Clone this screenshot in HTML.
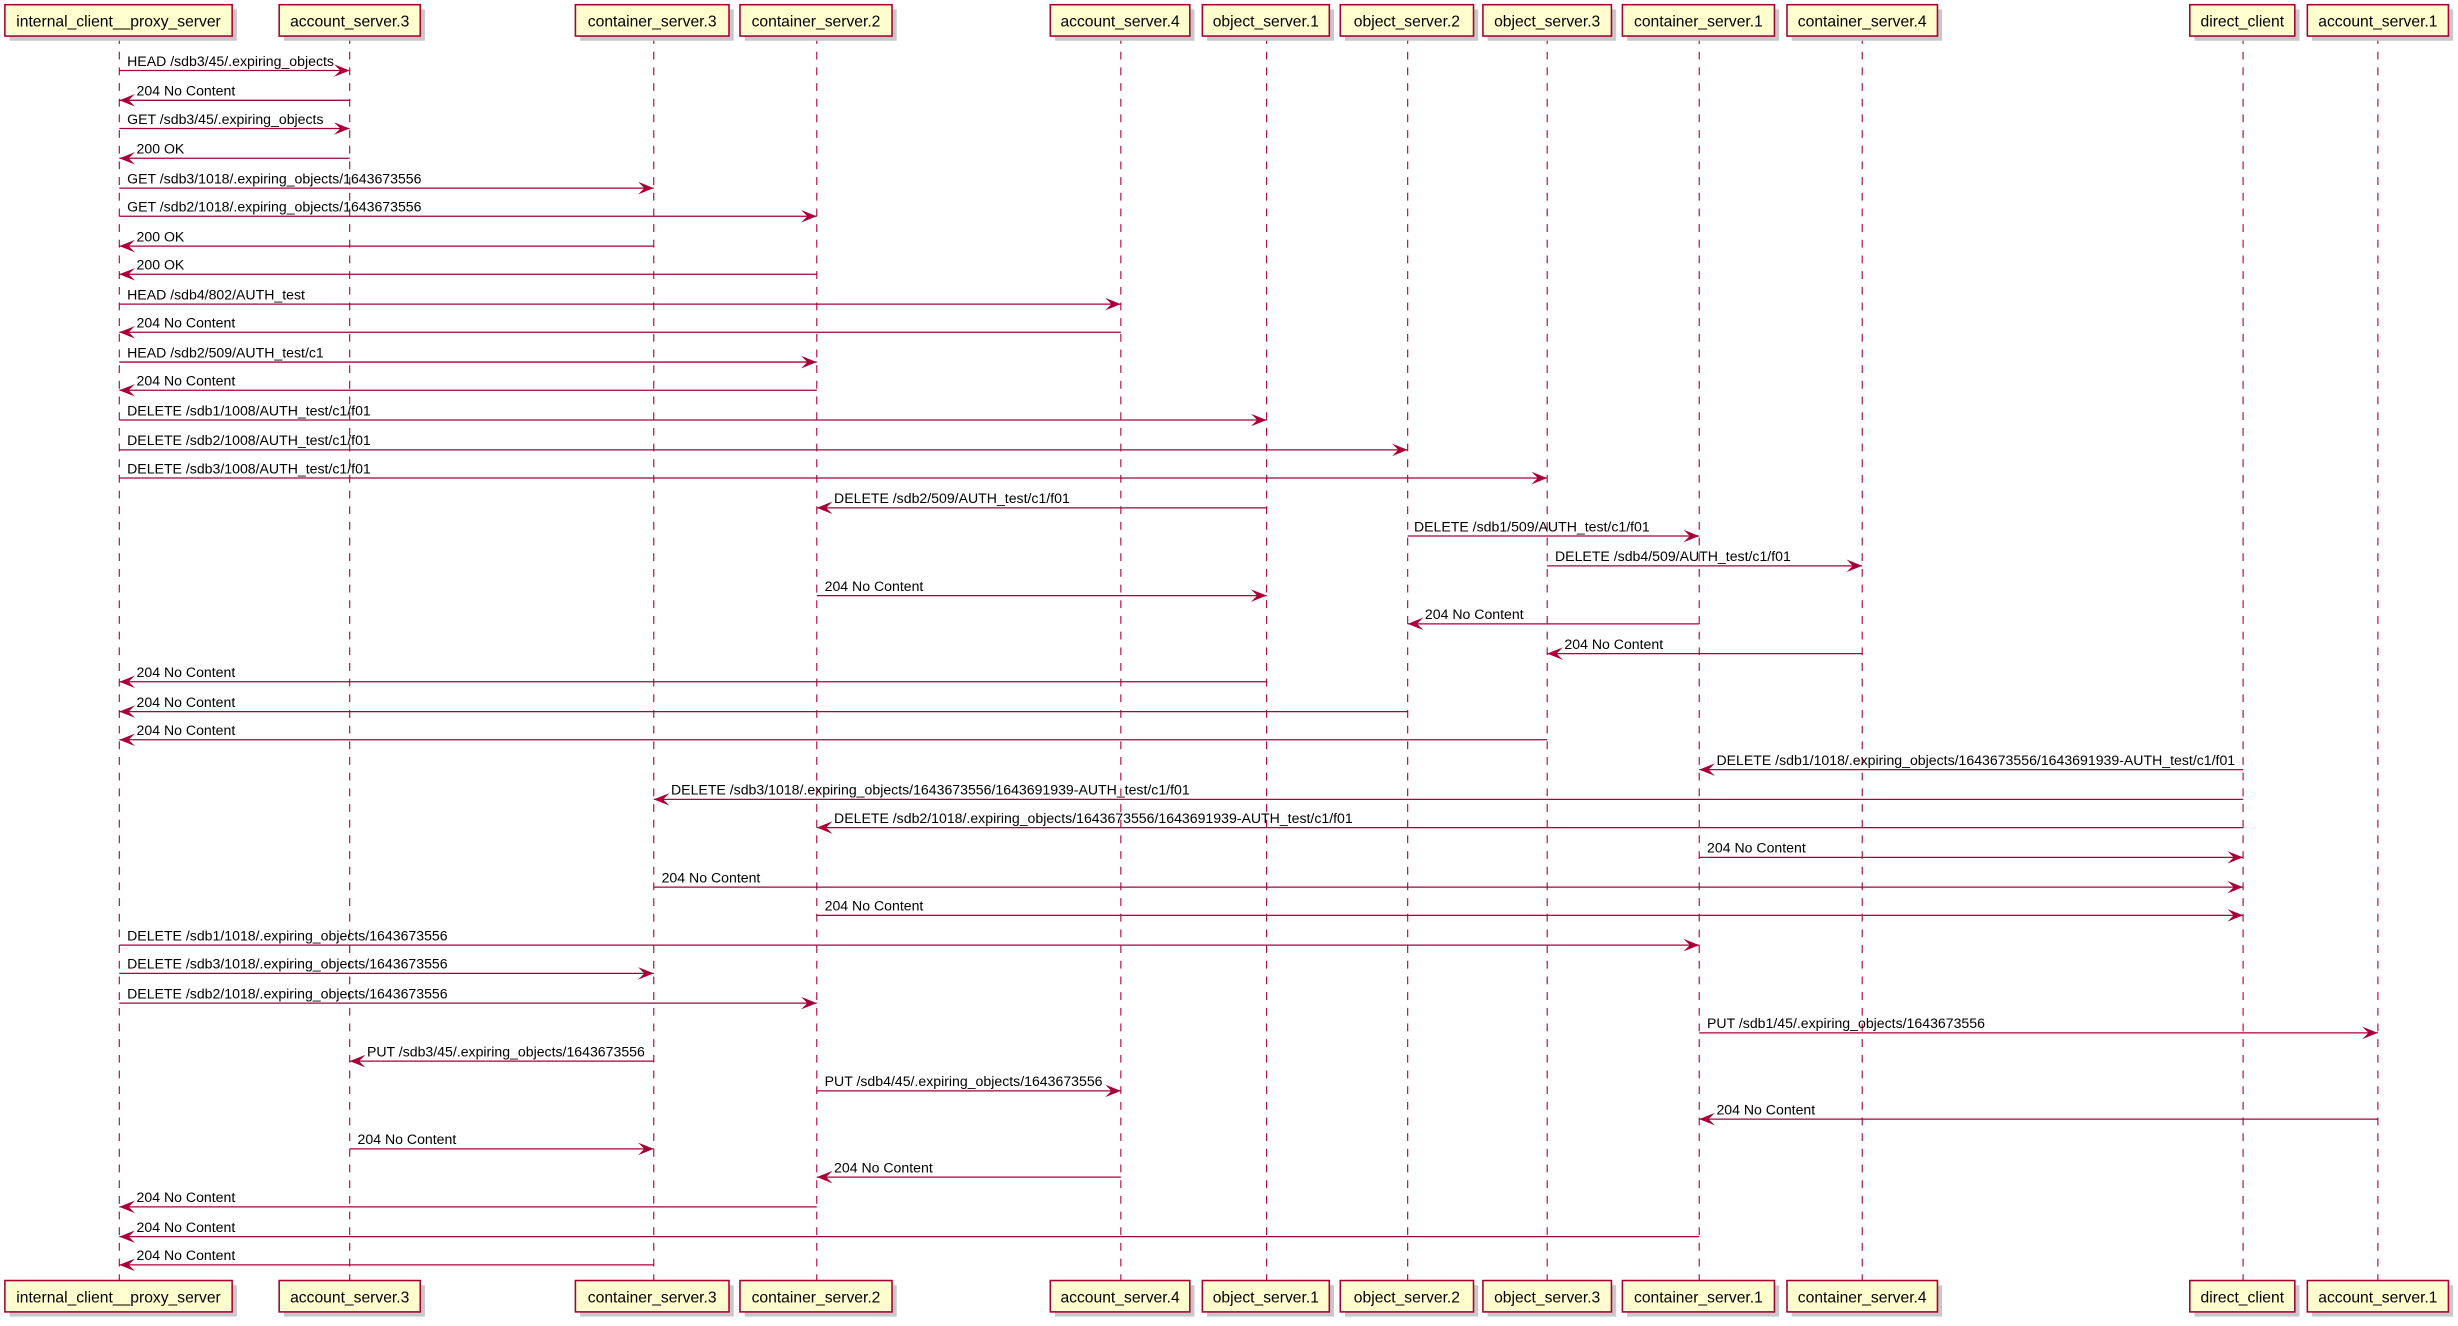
<!DOCTYPE html>
<html><head><meta charset="utf-8"><style>
html,body{margin:0;padding:0;background:#fff;}
svg{display:block;}
text{font-family:"Liberation Sans","DejaVu Sans",sans-serif;fill:#000;}
.m{font-size:9px;}
.b{font-size:10px;}
.ll{stroke:#A80036;stroke-width:0.7;stroke-dasharray:5,5;}
.a{stroke:#A80036;stroke-width:0.8;marker-end:url(#h);}
.box{fill:#FEFECE;stroke:#A80036;stroke-width:1;}
.sh{fill:#c8c8c8;}
</style></head><body>
<svg width="2458" height="1326" viewBox="0 0 1568 846" xmlns="http://www.w3.org/2000/svg">
<defs><marker id="h" markerUnits="userSpaceOnUse" markerWidth="10" markerHeight="8" refX="10" refY="4" orient="auto"><path d="M0,0 L10,4 L0,8 L4,4 Z" fill="#A80036"/></marker></defs>
<g>
<line class="ll" x1="76" y1="23" x2="76" y2="817"/>
<line class="ll" x1="223" y1="23" x2="223" y2="817"/>
<line class="ll" x1="417" y1="23" x2="417" y2="817"/>
<line class="ll" x1="521" y1="23" x2="521" y2="817"/>
<line class="ll" x1="715" y1="23" x2="715" y2="817"/>
<line class="ll" x1="808" y1="23" x2="808" y2="817"/>
<line class="ll" x1="898" y1="23" x2="898" y2="817"/>
<line class="ll" x1="987" y1="23" x2="987" y2="817"/>
<line class="ll" x1="1084" y1="23" x2="1084" y2="817"/>
<line class="ll" x1="1188" y1="23" x2="1188" y2="817"/>
<line class="ll" x1="1431" y1="23" x2="1431" y2="817"/>
<line class="ll" x1="1517" y1="23" x2="1517" y2="817"/>
</g>
<g id="top">
<rect class="sh" x="6" y="6" width="145" height="20"/><rect class="box" x="3" y="3" width="145" height="20"/><text class="b" x="75.5" y="17" text-anchor="middle">internal_client__proxy_server</text>
<rect class="sh" x="181" y="6" width="90" height="20"/><rect class="box" x="178" y="3" width="90" height="20"/><text class="b" x="223" y="17" text-anchor="middle">account_server.3</text>
<rect class="sh" x="370" y="6" width="98" height="20"/><rect class="box" x="367" y="3" width="98" height="20"/><text class="b" x="416" y="17" text-anchor="middle">container_server.3</text>
<rect class="sh" x="475" y="6" width="97" height="20"/><rect class="box" x="472" y="3" width="97" height="20"/><text class="b" x="520.5" y="17" text-anchor="middle">container_server.2</text>
<rect class="sh" x="673" y="6" width="89" height="20"/><rect class="box" x="670" y="3" width="89" height="20"/><text class="b" x="714.5" y="17" text-anchor="middle">account_server.4</text>
<rect class="sh" x="770" y="6" width="81" height="20"/><rect class="box" x="767" y="3" width="81" height="20"/><text class="b" x="807.5" y="17" text-anchor="middle">object_server.1</text>
<rect class="sh" x="858" y="6" width="85" height="20"/><rect class="box" x="855" y="3" width="85" height="20"/><text class="b" x="897.5" y="17" text-anchor="middle">object_server.2</text>
<rect class="sh" x="949" y="6" width="82" height="20"/><rect class="box" x="946" y="3" width="82" height="20"/><text class="b" x="987" y="17" text-anchor="middle">object_server.3</text>
<rect class="sh" x="1038" y="6" width="97" height="20"/><rect class="box" x="1035" y="3" width="97" height="20"/><text class="b" x="1083.5" y="17" text-anchor="middle">container_server.1</text>
<rect class="sh" x="1143" y="6" width="96" height="20"/><rect class="box" x="1140" y="3" width="96" height="20"/><text class="b" x="1188" y="17" text-anchor="middle">container_server.4</text>
<rect class="sh" x="1400" y="6" width="67" height="20"/><rect class="box" x="1397" y="3" width="67" height="20"/><text class="b" x="1430.5" y="17" text-anchor="middle">direct_client</text>
<rect class="sh" x="1475" y="6" width="90" height="20"/><rect class="box" x="1472" y="3" width="90" height="20"/><text class="b" x="1517" y="17" text-anchor="middle">account_server.1</text>
</g>
<g>
<rect class="sh" x="6" y="820" width="145" height="20"/><rect class="box" x="3" y="817" width="145" height="20"/><text class="b" x="75.5" y="831" text-anchor="middle">internal_client__proxy_server</text>
<rect class="sh" x="181" y="820" width="90" height="20"/><rect class="box" x="178" y="817" width="90" height="20"/><text class="b" x="223" y="831" text-anchor="middle">account_server.3</text>
<rect class="sh" x="370" y="820" width="98" height="20"/><rect class="box" x="367" y="817" width="98" height="20"/><text class="b" x="416" y="831" text-anchor="middle">container_server.3</text>
<rect class="sh" x="475" y="820" width="97" height="20"/><rect class="box" x="472" y="817" width="97" height="20"/><text class="b" x="520.5" y="831" text-anchor="middle">container_server.2</text>
<rect class="sh" x="673" y="820" width="89" height="20"/><rect class="box" x="670" y="817" width="89" height="20"/><text class="b" x="714.5" y="831" text-anchor="middle">account_server.4</text>
<rect class="sh" x="770" y="820" width="81" height="20"/><rect class="box" x="767" y="817" width="81" height="20"/><text class="b" x="807.5" y="831" text-anchor="middle">object_server.1</text>
<rect class="sh" x="858" y="820" width="85" height="20"/><rect class="box" x="855" y="817" width="85" height="20"/><text class="b" x="897.5" y="831" text-anchor="middle">object_server.2</text>
<rect class="sh" x="949" y="820" width="82" height="20"/><rect class="box" x="946" y="817" width="82" height="20"/><text class="b" x="987" y="831" text-anchor="middle">object_server.3</text>
<rect class="sh" x="1038" y="820" width="97" height="20"/><rect class="box" x="1035" y="817" width="97" height="20"/><text class="b" x="1083.5" y="831" text-anchor="middle">container_server.1</text>
<rect class="sh" x="1143" y="820" width="96" height="20"/><rect class="box" x="1140" y="817" width="96" height="20"/><text class="b" x="1188" y="831" text-anchor="middle">container_server.4</text>
<rect class="sh" x="1400" y="820" width="67" height="20"/><rect class="box" x="1397" y="817" width="67" height="20"/><text class="b" x="1430.5" y="831" text-anchor="middle">direct_client</text>
<rect class="sh" x="1475" y="820" width="90" height="20"/><rect class="box" x="1472" y="817" width="90" height="20"/><text class="b" x="1517" y="831" text-anchor="middle">account_server.1</text>
</g>
<g>
<line class="a" x1="76" y1="45" x2="223" y2="45"/><text class="m" x="81" y="42">HEAD /sdb3/45/.expiring_objects</text>
<line class="a" x1="223" y1="64" x2="76" y2="64"/><text class="m" x="87" y="61">204 No Content</text>
<line class="a" x1="76" y1="82" x2="223" y2="82"/><text class="m" x="81" y="79">GET /sdb3/45/.expiring_objects</text>
<line class="a" x1="223" y1="101" x2="76" y2="101"/><text class="m" x="87" y="98">200 OK</text>
<line class="a" x1="76" y1="120" x2="417" y2="120"/><text class="m" x="81" y="117">GET /sdb3/1018/.expiring_objects/1643673556</text>
<line class="a" x1="76" y1="138" x2="521" y2="138"/><text class="m" x="81" y="135">GET /sdb2/1018/.expiring_objects/1643673556</text>
<line class="a" x1="417" y1="157" x2="76" y2="157"/><text class="m" x="87" y="154">200 OK</text>
<line class="a" x1="521" y1="175" x2="76" y2="175"/><text class="m" x="87" y="172">200 OK</text>
<line class="a" x1="76" y1="194" x2="715" y2="194"/><text class="m" x="81" y="191">HEAD /sdb4/802/AUTH_test</text>
<line class="a" x1="715" y1="212" x2="76" y2="212"/><text class="m" x="87" y="209">204 No Content</text>
<line class="a" x1="76" y1="231" x2="521" y2="231"/><text class="m" x="81" y="228">HEAD /sdb2/509/AUTH_test/c1</text>
<line class="a" x1="521" y1="249" x2="76" y2="249"/><text class="m" x="87" y="246">204 No Content</text>
<line class="a" x1="76" y1="268" x2="808" y2="268"/><text class="m" x="81" y="265">DELETE /sdb1/1008/AUTH_test/c1/f01</text>
<line class="a" x1="76" y1="287" x2="898" y2="287"/><text class="m" x="81" y="284">DELETE /sdb2/1008/AUTH_test/c1/f01</text>
<line class="a" x1="76" y1="305" x2="987" y2="305"/><text class="m" x="81" y="302">DELETE /sdb3/1008/AUTH_test/c1/f01</text>
<line class="a" x1="808" y1="324" x2="521" y2="324"/><text class="m" x="532" y="321">DELETE /sdb2/509/AUTH_test/c1/f01</text>
<line class="a" x1="898" y1="342" x2="1084" y2="342"/><text class="m" x="902" y="339">DELETE /sdb1/509/AUTH_test/c1/f01</text>
<line class="a" x1="987" y1="361" x2="1188" y2="361"/><text class="m" x="992" y="358">DELETE /sdb4/509/AUTH_test/c1/f01</text>
<line class="a" x1="521" y1="380" x2="808" y2="380"/><text class="m" x="526" y="377">204 No Content</text>
<line class="a" x1="1084" y1="398" x2="898" y2="398"/><text class="m" x="909" y="395">204 No Content</text>
<line class="a" x1="1188" y1="417" x2="987" y2="417"/><text class="m" x="998" y="414">204 No Content</text>
<line class="a" x1="808" y1="435" x2="76" y2="435"/><text class="m" x="87" y="432">204 No Content</text>
<line class="a" x1="898" y1="454" x2="76" y2="454"/><text class="m" x="87" y="451">204 No Content</text>
<line class="a" x1="987" y1="472" x2="76" y2="472"/><text class="m" x="87" y="469">204 No Content</text>
<line class="a" x1="1431" y1="491" x2="1084" y2="491"/><text class="m" x="1095" y="488">DELETE /sdb1/1018/.expiring_objects/1643673556/1643691939-AUTH_test/c1/f01</text>
<line class="a" x1="1431" y1="510" x2="417" y2="510"/><text class="m" x="428" y="507">DELETE /sdb3/1018/.expiring_objects/1643673556/1643691939-AUTH_test/c1/f01</text>
<line class="a" x1="1431" y1="528" x2="521" y2="528"/><text class="m" x="532" y="525">DELETE /sdb2/1018/.expiring_objects/1643673556/1643691939-AUTH_test/c1/f01</text>
<line class="a" x1="1084" y1="547" x2="1431" y2="547"/><text class="m" x="1089" y="544">204 No Content</text>
<line class="a" x1="417" y1="566" x2="1431" y2="566"/><text class="m" x="422" y="563">204 No Content</text>
<line class="a" x1="521" y1="584" x2="1431" y2="584"/><text class="m" x="526" y="581">204 No Content</text>
<line class="a" x1="76" y1="603" x2="1084" y2="603"/><text class="m" x="81" y="600">DELETE /sdb1/1018/.expiring_objects/1643673556</text>
<line class="a" x1="76" y1="621" x2="417" y2="621"/><text class="m" x="81" y="618">DELETE /sdb3/1018/.expiring_objects/1643673556</text>
<line class="a" x1="76" y1="640" x2="521" y2="640"/><text class="m" x="81" y="637">DELETE /sdb2/1018/.expiring_objects/1643673556</text>
<line class="a" x1="1084" y1="659" x2="1517" y2="659"/><text class="m" x="1089" y="656">PUT /sdb1/45/.expiring_objects/1643673556</text>
<line class="a" x1="417" y1="677" x2="223" y2="677"/><text class="m" x="234" y="674">PUT /sdb3/45/.expiring_objects/1643673556</text>
<line class="a" x1="521" y1="696" x2="715" y2="696"/><text class="m" x="526" y="693">PUT /sdb4/45/.expiring_objects/1643673556</text>
<line class="a" x1="1517" y1="714" x2="1084" y2="714"/><text class="m" x="1095" y="711">204 No Content</text>
<line class="a" x1="223" y1="733" x2="417" y2="733"/><text class="m" x="228" y="730">204 No Content</text>
<line class="a" x1="715" y1="751" x2="521" y2="751"/><text class="m" x="532" y="748">204 No Content</text>
<line class="a" x1="521" y1="770" x2="76" y2="770"/><text class="m" x="87" y="767">204 No Content</text>
<line class="a" x1="1084" y1="789" x2="76" y2="789"/><text class="m" x="87" y="786">204 No Content</text>
<line class="a" x1="417" y1="807" x2="76" y2="807"/><text class="m" x="87" y="804">204 No Content</text>
</g>
</svg>
</body></html>
